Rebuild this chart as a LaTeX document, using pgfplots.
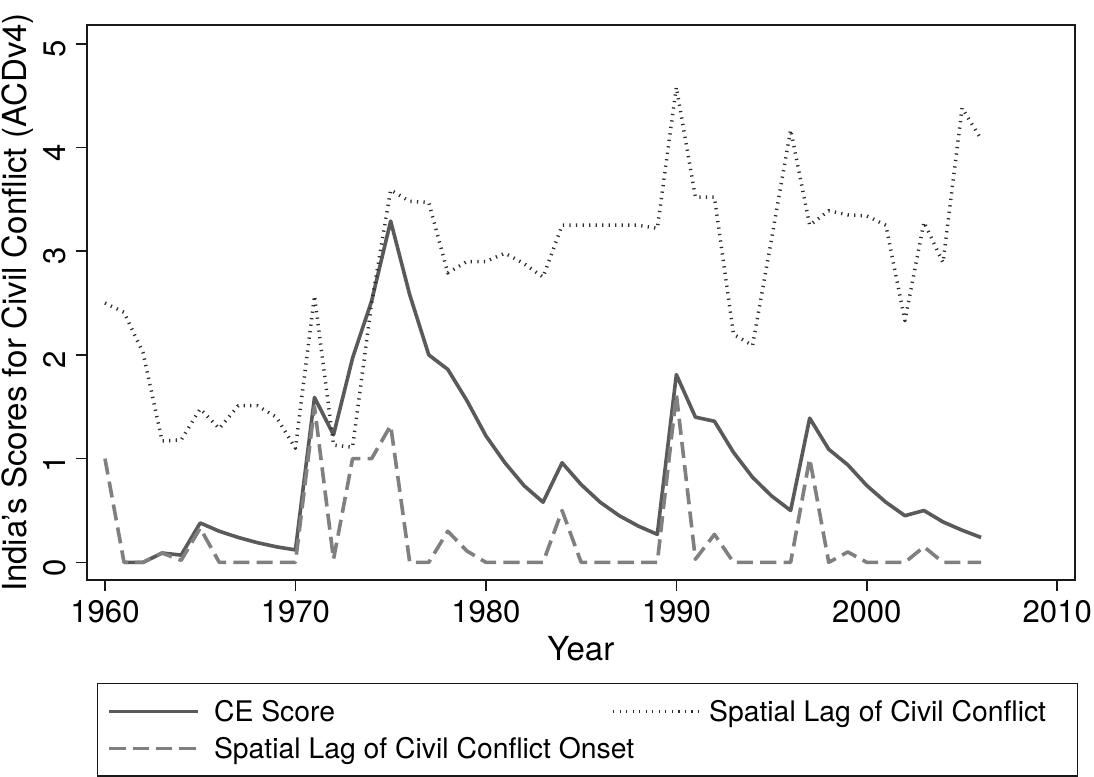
\documentclass[border=0pt]{standalone}
\usepackage{fontspec}
\setmainfont{TeX Gyre Heros}
\usepackage{pgfplots}
\pgfplotsset{compat=1.18}
\definecolor{ceCol}{RGB}{90,90,90}
\definecolor{dotCol}{RGB}{45,45,45}
\definecolor{dashCol}{RGB}{128,128,128}
\definecolor{frameCol}{RGB}{25,25,25}
\newcommand{\tickfont}{\fontsize{11.2}{13.4}\selectfont}
\newcommand{\labfont}{\fontsize{11.9}{14.2}\selectfont}
\newcommand{\legfont}{\fontsize{10.2}{12.2}\selectfont}
\begin{document}
\begin{tikzpicture}
\begin{axis}[
  name=ax,
  scale only axis,
  width=355.8pt, height=199.8pt,
  xmin=1959.04, xmax=2010.93,
  ymin=-0.17, ymax=5.18,
  xtick={1960,1970,1980,1990,2000,2010},
  ytick={0,1,2,3,4,5},
  tick align=outside,
  xtick pos=bottom, ytick pos=left,
  major tick length=4pt,
  every tick/.style={frameCol, line width=0.6pt},
  axis line style={frameCol, line width=0.6pt},
  /pgf/number format/assume math mode=true,
  tick label style={font=\tickfont},
  x tick label style={/pgf/number format/1000 sep={}},
  yticklabel style={rotate=90, anchor=south, xshift=-1.8pt},
  label style={font=\labfont},
  xlabel={Year},
  ylabel={India’s Scores for Civil Conflict (ACDv4)},
  xlabel style={at={(axis description cs:0.5,-0.123)}, anchor=center},
  ylabel style={at={(axis description cs:-0.0695,0.5)}, anchor=center},
  legend columns=2,
  legend cell align=left,
  legend image code/.code={\draw[#1] (0pt,0pt) -- (32pt,0pt);},
  legend style={at={(0.0104,-0.1856)}, anchor=north west, draw=frameCol, line width=0.5pt,
    inner xsep=3.6pt, inner ysep=5pt, column sep=0pt, row sep=3.2pt,
    nodes={inner sep=0pt}, font=\legfont},
]
\addplot[ceCol, line width=1.3pt, line join=round] coordinates {
(1961,0) (1962,0) (1963,0.09) (1964,0.07) (1965,0.38) (1966,0.30) (1967,0.24) (1968,0.19) (1969,0.15) (1970,0.12)
(1971,1.59) (1972,1.23) (1973,1.97) (1974,2.52) (1975,3.29) (1976,2.58) (1977,2.00) (1978,1.86) (1979,1.56) (1980,1.22)
(1981,0.96) (1982,0.74) (1983,0.58) (1984,0.96) (1985,0.75) (1986,0.58) (1987,0.45) (1988,0.35) (1989,0.27) (1990,1.81)
(1991,1.40) (1992,1.36) (1993,1.06) (1994,0.82) (1995,0.64) (1996,0.50) (1997,1.39) (1998,1.09) (1999,0.94) (2000,0.74)
(2001,0.58) (2002,0.45) (2003,0.50) (2004,0.39) (2005,0.31) (2006,0.24)
};
\addlegendentry{\makebox[148pt][l]{\hspace{5pt}CE Score\strut}}
\addplot[dotCol, line width=1.25pt, line join=round, dash pattern=on 0.45pt off 1.9pt] coordinates {
(1960,2.50) (1961,2.41) (1962,2.02) (1963,1.17) (1964,1.18) (1965,1.48) (1966,1.29) (1967,1.51) (1968,1.51) (1969,1.40)
(1970,1.10) (1971,2.57) (1972,1.13) (1973,1.11) (1974,2.50) (1975,3.59) (1976,3.48) (1977,3.47) (1978,2.79) (1979,2.90)
(1980,2.90) (1981,2.98) (1982,2.88) (1983,2.75) (1984,3.25) (1985,3.25) (1986,3.25) (1987,3.25) (1988,3.25) (1989,3.22)
(1990,4.58) (1991,3.52) (1992,3.52) (1993,2.20) (1994,2.09) (1995,3.12) (1996,4.17) (1997,3.25) (1998,3.39) (1999,3.35)
(2000,3.34) (2001,3.25) (2002,2.33) (2003,3.28) (2004,2.89) (2005,4.38) (2006,4.08)
};
\addlegendentry{\makebox[131pt][l]{\hspace{2pt}Spatial Lag of Civil Conflict\strut}}
\addplot[dashCol, line width=1.3pt, line join=round, dash pattern=on 5.8pt off 2.6pt] coordinates {
(1960,1.0) (1961,0) (1962,0) (1963,0.09) (1964,0.02) (1965,0.33) (1966,0) (1967,0) (1968,0) (1969,0)
(1970,0) (1971,1.5) (1972,0.03) (1973,1.0) (1974,1.0) (1975,1.32) (1976,0) (1977,0) (1978,0.3) (1979,0.11)
(1980,0) (1981,0) (1982,0) (1983,0) (1984,0.5) (1985,0) (1986,0) (1987,0) (1988,0) (1989,0)
(1990,1.62) (1991,0.03) (1992,0.27) (1993,0) (1994,0) (1995,0) (1996,0) (1997,1.0) (1998,0) (1999,0.1)
(2000,0) (2001,0) (2002,0) (2003,0.15) (2004,0) (2005,0) (2006,0)
};
\addlegendentry{\makebox[148pt][l]{\hspace{5pt}Spatial Lag of Civil Conflict Onset\strut}}
\end{axis}
\pgfresetboundingbox
\path[use as bounding box] ([xshift=-31.21pt,yshift=-70.92pt]ax.south west) rectangle ([xshift=6.84pt,yshift=9pt]ax.north east);
\end{tikzpicture}
\end{document}
